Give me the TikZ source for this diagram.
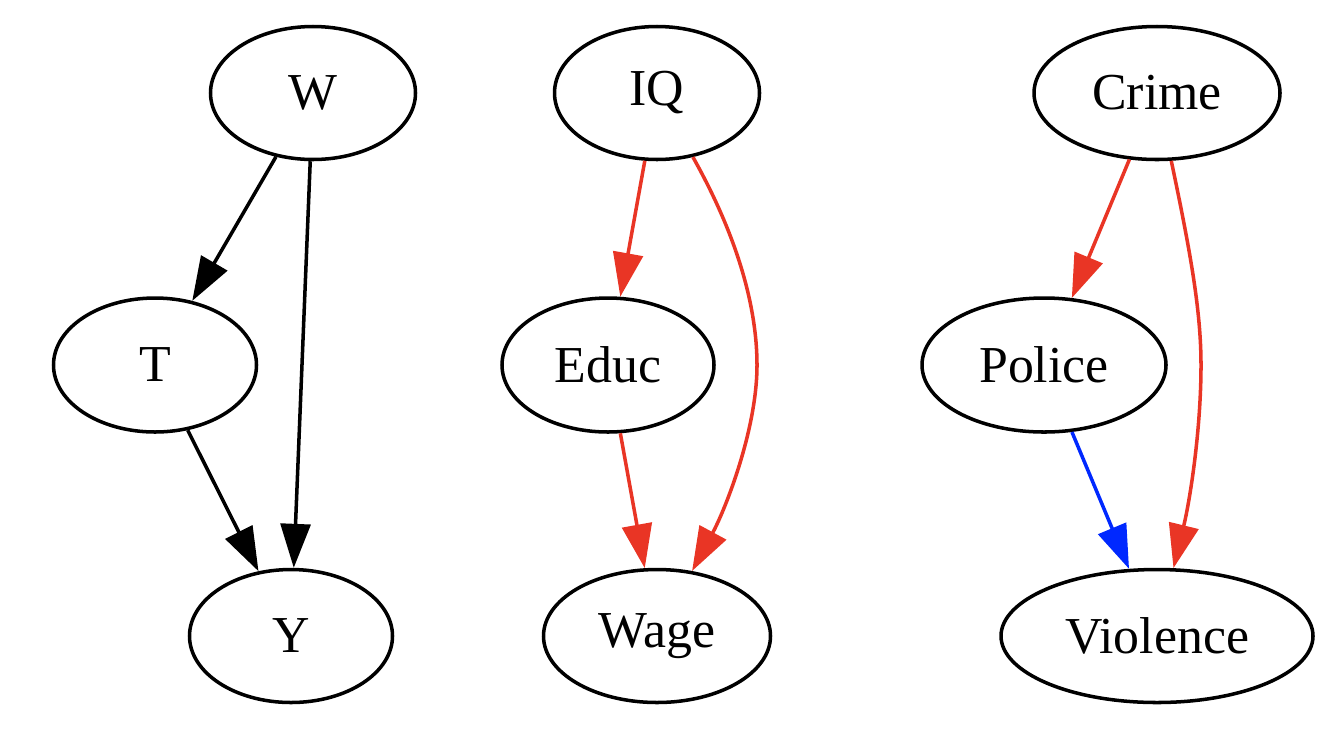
\documentclass[tikz,border=0pt]{standalone}
\usepackage{fontspec}
\setmainfont{Liberation Serif}
\usetikzlibrary{shapes.geometric}
\usetikzlibrary{arrows.meta}
\definecolor{edgered}{RGB}{233,53,37}
\definecolor{edgeblue}{RGB}{0,40,255}

\begin{document}
\begin{tikzpicture}[x=0.02cm, y=-0.02cm,
                    var/.style={draw, ellipse, line width=2pt, inner sep=0pt,
                                font=\fontsize{29.5}{30}\selectfont},
                    edge/.style={draw, line width=2pt,
                                 -{Triangle[length=25pt, width=17pt]}}]
    \useasboundingbox (0,0) rectangle (1338,748);

    % Grafo 1
    \node[var, minimum width=205*0.02cm, minimum height=133*0.02cm] (W) at (313,93) {W};
    \node[var, minimum width=203*0.02cm, minimum height=134*0.02cm] (T) at (155,365) {T};
    \node[var, minimum width=203*0.02cm, minimum height=133*0.02cm] (Y) at (291,636) {Y};
    \draw[edge] (W) -- (T);
    \draw[edge] (W) -- (Y);
    \draw[edge] (T) -- (Y);

    % Grafo 2
    \node[var, minimum width=205*0.02cm, minimum height=133*0.02cm] (IQ) at (657,93) {IQ};
    \node[var, minimum width=212*0.02cm, minimum height=134*0.02cm] (Educ) at (608,365) {Educ};
    \node[var, minimum width=227*0.02cm, minimum height=133*0.02cm] (Wage) at (657,636) {Wage};
    \draw[edge, edgered] (IQ) -- (Educ);
    \draw[edge, edgered] (Educ) -- (Wage);
    \draw[edge, edgered] (IQ) .. controls (745,250) and (757,320) .. (757,365)
        .. controls (757,430) and (725,510) .. (Wage);

    % Grafo 3
    \node[var, minimum width=246*0.02cm, minimum height=133*0.02cm] (Crime) at (1157,93) {Crime};
    \node[var, minimum width=244*0.02cm, minimum height=134*0.02cm] (Police) at (1044,365) {Police};
    \node[var, minimum width=312*0.02cm, minimum height=133*0.02cm] (Violence) at (1157,636) {Violence};
    \draw[edge, edgered] (Crime) -- (Police);
    \draw[edge, edgeblue] (Police) -- (Violence);
    \draw[edge, edgered] (Crime) .. controls (1190,250) and (1201,310) .. (1201,365)
        .. controls (1201,430) and (1190,500) .. (Violence);
\end{tikzpicture}
\end{document}
